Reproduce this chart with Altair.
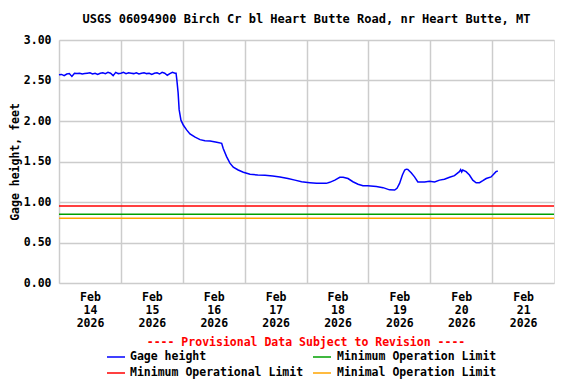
import altair as alt
import pandas as pd

# ---- data ----
hours = [0, 1, 2, 3, 4, 5, 6, 7, 8, 9, 10, 11, 12, 13, 14, 15, 16, 17, 18, 19, 20,
         21, 22, 23, 24, 25, 26, 27, 28, 29, 30, 31, 32, 33, 34, 35, 36, 37, 38, 39,
         40, 41, 42, 43, 44, 45, 45.4,
         45.7, 46.2, 46.6, 47.3, 48.2, 49.5, 50.8, 52.8, 54.7, 56.6, 58.6, 61.2, 63.1,
         63.7, 65.0, 66.3, 67.6, 69.5, 71.5, 74.1, 77.1, 79.9, 82.9, 85.7, 88.8, 91.5,
         94.1, 97.3, 99.9, 103.7, 105.0, 107.0, 108.9, 110.2, 112.1, 114.0, 116.0,
         117.9, 119.8, 123.1, 125.7, 128.2, 130.2, 131.1, 132.1, 133.2, 134.1, 134.7,
         135.3, 136.6, 137.9, 139.2, 141.8, 143.7, 145.7, 147.6, 149.5, 151.5, 153.4,
         154.7, 155.3, 155.8, 156.2, 156.6, 157.9, 159.2, 160.5, 161.8, 163.1, 164.4,
         165.7, 167.6, 169.5, 170.2]
gage = [2.57, 2.575, 2.56, 2.58, 2.585, 2.55, 2.59, 2.585, 2.59, 2.58, 2.585, 2.59,
        2.595, 2.58, 2.59, 2.575, 2.59, 2.595, 2.585, 2.60, 2.59, 2.56, 2.60, 2.585,
        2.59, 2.60, 2.585, 2.595, 2.59, 2.585, 2.595, 2.58, 2.59, 2.595, 2.585, 2.59,
        2.575, 2.59, 2.595, 2.58, 2.60, 2.59, 2.565, 2.585, 2.60, 2.59, 2.59,
        2.51, 2.35, 2.14, 2.01, 1.95, 1.89, 1.84, 1.80, 1.77, 1.757, 1.753, 1.737, 1.725,
        1.66, 1.56, 1.48, 1.43, 1.395, 1.367, 1.342, 1.333, 1.33, 1.32, 1.31, 1.29, 1.27,
        1.25, 1.238, 1.23, 1.23, 1.243, 1.27, 1.305, 1.305, 1.29, 1.25, 1.22,
        1.20, 1.20, 1.19, 1.177, 1.15, 1.148, 1.17, 1.23, 1.333, 1.395, 1.405,
        1.403, 1.36, 1.31, 1.247, 1.247, 1.255, 1.247, 1.27, 1.28, 1.305, 1.325,
        1.36, 1.375, 1.40, 1.37, 1.395, 1.375, 1.333, 1.27, 1.238, 1.238, 1.263,
        1.29, 1.31, 1.375, 1.383]

limit_names = ["Minimum Operational Limit", "Minimum Operation Limit", "Minimal Operation Limit"]
limit_values = [0.95, 0.85, 0.80]
limit_colors = ["#ff0000", "#00a000", "#ffa500"]

series_name = "Gage height"
series_color = "#0000ff"
day_numbers = [14, 15, 16, 17, 18, 19, 20, 21]
y_ticks = [0, 0.5, 1.0, 1.5, 2.0, 2.5, 3.0]
title_text = "USGS 06094900 Birch Cr bl Heart Butte Road, nr Heart Butte, MT"
provisional = "---- Provisional Data Subject to Revision ----"

FONT = "DejaVu Sans Mono"
FS = 11.5

start = pd.Timestamp("2026-02-14 00:00:00")
times = [(start + pd.Timedelta(hours=h)).strftime("%Y-%m-%dT%H:%M:%S") for h in hours]
df = pd.DataFrame({"time": times, "gage": gage})
lim_df = pd.DataFrame({"name": limit_names, "value": limit_values, "color": limit_colors})

W, H = 495, 243

x_enc = alt.X(
    "time:T",
    scale=alt.Scale(domain=[alt.DateTime(year=2026, month=2, date=14),
                            alt.DateTime(year=2026, month=2, date=22)]),
    axis=alt.Axis(
        values=[alt.DateTime(year=2026, month=2, date=d) for d in day_numbers],
        labelExpr="[timeFormat(datum.value, '%b'), timeFormat(datum.value, '%d'), timeFormat(datum.value, '%Y')]",
        labelOffset=31, labelFlush=False, labelOverlap=False, labelBound=False,
        labelFont=FONT, labelFontSize=FS, labelFontWeight="bold", labelColor="black",
        labelLineHeight=13, labelPadding=8, labelAlign="center",
        ticks=False, domain=False, grid=True, gridColor="#cccccc", gridWidth=1.5,
        title=None,
    ),
)

y_scale = alt.Scale(domain=[0, 3], nice=False)

line = alt.Chart(df).mark_line(color=series_color, strokeWidth=1.5).encode(
    x=x_enc,
    y=alt.Y("gage:Q", scale=y_scale,
            axis=alt.Axis(values=y_ticks, format=".2f", title="Gage height, feet",
                          labelFont=FONT, labelFontSize=FS, labelFontWeight="bold",
                          labelColor="black", labelPadding=8,
                          titleFont=FONT, titleFontSize=FS, titleFontWeight="bold",
                          titleColor="black", titlePadding=3,
                          ticks=False, domain=False, grid=True,
                          gridColor="#cccccc", gridWidth=1.5)),
)

limits = alt.Chart(lim_df).mark_rule(strokeWidth=1.5).encode(
    y=alt.Y("value:Q", scale=y_scale),
    color=alt.Color("color:N", scale=None, legend=None),
)

one = alt.Data(values=[{}])

def txt(s, x, y, color="black", align="left"):
    return alt.Chart(one).mark_text(
        text=s, font=FONT, fontSize=FS, fontWeight="bold", color=color,
        align=align, baseline="middle",
    ).encode(x=alt.value(x), y=alt.value(y))

def swatch(x1, x2, y, color):
    return alt.Chart(one).mark_rule(color=color, strokeWidth=1.5).encode(
        x=alt.value(x1), x2=alt.value(x2), y=alt.value(y))

legend_layers = [
    txt(provisional, 247, 303, color="#ff0000", align="center"),
    swatch(48, 66, 317, series_color), txt(series_name, 71, 317),
    swatch(48, 66, 333, limit_colors[0]), txt(limit_names[0], 71, 333),
    swatch(254, 272, 317, limit_colors[1]), txt(limit_names[1], 278, 317),
    swatch(254, 272, 333, limit_colors[2]), txt(limit_names[2], 278, 333),
]

chart = alt.layer(line, limits, *legend_layers).properties(
    width=W, height=H,
    title=alt.TitleParams(title_text, font=FONT, fontSize=12, fontWeight="bold",
                          color="black", anchor="middle", offset=8),
    autosize=alt.AutoSizeParams(type="none"),
    padding={"left": 51, "top": 32, "right": 6, "bottom": 99},
).configure_view(stroke="black", strokeWidth=1.5).configure(background="white")

chart.save("out.html", embed_options={"renderer": "svg", "actions": False})
